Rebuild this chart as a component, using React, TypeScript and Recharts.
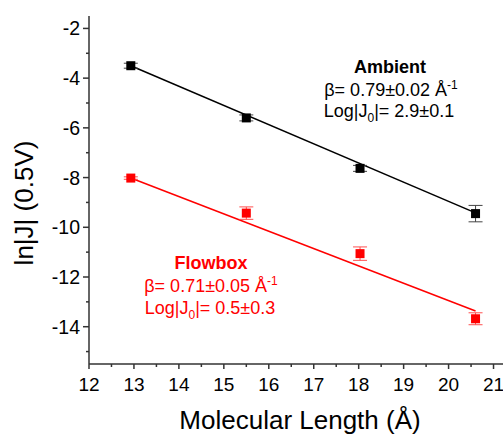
import { ComposedChart, XAxis, YAxis, Scatter, Line, ErrorBar } from 'recharts'

const lengths = [12.93, 15.5, 18.03, 20.6]
const ambientLnJ = [-3.5, -5.6, -7.63, -9.45]
const ambientErr = [0.1, 0.12, 0.12, 0.33]
const flowboxLnJ = [-8.02, -9.43, -11.06, -13.68]
const flowboxErr = [0.05, 0.25, 0.27, 0.24]

// linear fits, drawn between the first and last length
const fitLengths = [12.93, 20.6]
const ambientFitLnJ = [-3.5, -9.42]
const flowboxFitLnJ = [-8.02, -13.37]

const xTicks = [12, 12.5, 13, 13.5, 14, 14.5, 15, 15.5, 16, 16.5, 17, 17.5, 18, 18.5, 19, 19.5, 20, 20.5, 21, 21.5]
const yTicks = [-15, -14, -13, -12, -11, -10, -9, -8, -7, -6, -5, -4, -3, -2]

const ambient = lengths.map((x, i) => ({ x, y: ambientLnJ[i], err: ambientErr[i] }))
const flowbox = lengths.map((x, i) => ({ x, y: flowboxLnJ[i], err: flowboxErr[i] }))
const ambientFit = fitLengths.map((x, i) => ({ x, y: ambientFitLnJ[i] }))
const flowboxFit = fitLengths.map((x, i) => ({ x, y: flowboxFitLnJ[i] }))

const FONT = 'Arial, "Liberation Sans", sans-serif'
const AXIS = '#333'

function BottomTick({ x, y, payload }: any) {
  const v = payload.value
  const major = Number.isInteger(v)
  return (
    <g>
      <line x1={x} x2={x} y1={y} y2={y + (major ? 5 : 3)} stroke={AXIS} strokeWidth={1.5} />
      {major && (
        <text x={x} y={y + 27} textAnchor="middle" fontSize={19} fontFamily={FONT} fill="#000">
          {v}
        </text>
      )}
    </g>
  )
}

function TopTick({ x, y, payload }: any) {
  const major = Number.isInteger(payload.value)
  return <line x1={x} x2={x} y1={y} y2={y + (major ? 5 : 3)} stroke={AXIS} strokeWidth={1.5} />
}

function LeftTick({ x, y, payload }: any) {
  const v = payload.value
  const major = v % 2 === 0
  return (
    <g>
      <line x1={x - (major ? 6 : 3)} x2={x} y1={y} y2={y} stroke={AXIS} strokeWidth={1.5} />
      {major && (
        <text x={x - 9} y={y + 7} textAnchor="end" fontSize={19.5} fontFamily={FONT} fill="#000">
          {v}
        </text>
      )}
    </g>
  )
}

const square = (color: string) => (p: any) => (
  <rect x={p.cx - 4.5} y={p.cy - 4.5} width={9} height={9} fill={color} />
)

export default function App() {
  return (
    <div style={{ position: 'fixed', left: 0, top: 0, width: 503, height: 436, overflow: 'hidden', background: '#fff' }}>
      <ComposedChart width={530} height={436} margin={{ top: 16, right: 14, bottom: 0, left: 0 }}>
        <XAxis
          dataKey="x"
          type="number"
          domain={[12, 21.5]}
          ticks={xTicks}
          interval={0}
          height={72}
          tickSize={0}
          tickMargin={0}
          tick={BottomTick}
          stroke={AXIS}
          strokeWidth={1.5}
        />
        <XAxis
          xAxisId="top"
          orientation="top"
          dataKey="x"
          type="number"
          domain={[12, 21.5]}
          ticks={xTicks}
          interval={0}
          height={0}
          tickSize={0}
          tickMargin={0}
          tick={TopTick}
          stroke={AXIS}
          strokeWidth={1.5}
        />
        <YAxis
          type="number"
          domain={[-15.5, -1.5]}
          ticks={yTicks}
          interval={0}
          width={89}
          tickSize={0}
          tickMargin={0}
          tick={LeftTick}
          stroke={AXIS}
          strokeWidth={1.5}
        />
        <Line data={ambientFit} dataKey="y" stroke="#000" strokeWidth={1.5} dot={false} isAnimationActive={false} />
        <Line data={flowboxFit} dataKey="y" stroke="#ff0000" strokeWidth={1.5} dot={false} isAnimationActive={false} />
        <Scatter data={ambient} dataKey="y" shape={square('#000')} isAnimationActive={false}>
          <ErrorBar dataKey="err" direction="y" width={7} stroke="#444" strokeWidth={1} />
        </Scatter>
        <Scatter data={flowbox} dataKey="y" shape={square('#ff0000')} isAnimationActive={false}>
          <ErrorBar dataKey="err" direction="y" width={7} stroke="#ff5050" strokeWidth={1} />
        </Scatter>

        <text x={300} y={429} textAnchor="middle" fontSize={26} fontFamily={FONT} fill="#000">
          Molecular Length (Å)
        </text>
        <text x={33} y={203} textAnchor="middle" fontSize={26} fontFamily={FONT} fill="#000" transform="rotate(-90 33 203)">
          ln|J| (0.5V)
        </text>

        <g fontFamily={FONT} fontSize={18} textAnchor="middle" fill="#000">
          <text x={390} y={73} fontWeight="bold">Ambient</text>
          <text x={391} y={96}>
            β= 0.79±0.02 Å<tspan dy={-7} fontSize={12}>-1</tspan>
          </text>
          <text x={389} y={117}>
            Log|J<tspan dy={5} fontSize={12}>0</tspan>
            <tspan dy={-5}>|= 2.9±0.1</tspan>
          </text>
        </g>
        <g fontFamily={FONT} fontSize={18} textAnchor="middle" fill="#ff0000">
          <text x={211} y={269} fontWeight="bold">Flowbox</text>
          <text x={211} y={292}>
            β= 0.71±0.05 Å<tspan dy={-7} fontSize={12}>-1</tspan>
          </text>
          <text x={210} y={314}>
            Log|J<tspan dy={5} fontSize={12}>0</tspan>
            <tspan dy={-5}>|= 0.5±0.3</tspan>
          </text>
        </g>
      </ComposedChart>
    </div>
  )
}
